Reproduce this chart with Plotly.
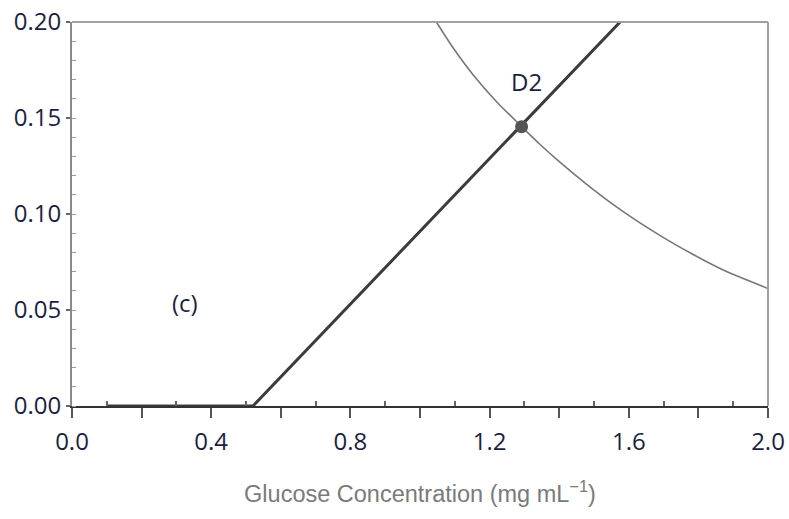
import plotly.graph_objects as go

# Thick response line: flat baseline then linear rise
resp_x = [0.10, 0.52, 1.575]
resp_y = [0.0, 0.0, 0.200]

# Thin decreasing curve
curve_x = [1.047, 1.096, 1.153, 1.220, 1.292, 1.345, 1.402, 1.489,
           1.584, 1.695, 1.785, 1.881, 2.000]
curve_y = [0.2000, 0.1863, 0.1724, 0.1585, 0.1455, 0.1362, 0.1270, 0.1140,
           0.1012, 0.0882, 0.0789, 0.0700, 0.0612]

# Intersection point D2
pt_x = [1.292]
pt_y = [0.1455]

x_ticks = [0.0, 0.4, 0.8, 1.2, 1.6, 2.0]
x_labels = ["0.0", "0.4", "0.8", "1.2", "1.6", "2.0"]
x_inner_ticks = [0.1, 0.3, 0.5, 0.7, 0.9, 1.1, 1.3, 1.5, 1.7, 1.9]
y_ticks = [0.00, 0.05, 0.10, 0.15, 0.20]
y_labels = ["0.00", "0.05", "0.10", "0.15", "0.20"]

label_font = dict(family="Open Sans, Noto Sans, sans-serif", size=24, color="#1c1f3f")

fig = go.Figure()
fig.add_trace(go.Scatter(x=curve_x, y=curve_y, mode="lines",
                         line=dict(color="#777777", width=1.6, shape="spline", smoothing=0.6),
                         cliponaxis=False, hoverinfo="skip"))
fig.add_trace(go.Scatter(x=resp_x, y=resp_y, mode="lines",
                         line=dict(color="#3c3c3c", width=3),
                         cliponaxis=False, hoverinfo="skip"))
# marker sits on the overlaying x-axis (same range) so that axis gets drawn
fig.add_trace(go.Scatter(x=pt_x, y=pt_y, mode="markers", xaxis="x2",
                         marker=dict(color="#555555", size=13),
                         cliponaxis=False, hoverinfo="skip"))

fig.add_annotation(x=1.307, y=0.169, text="D2", showarrow=False,
                   font=label_font)
fig.add_annotation(x=0.325, y=0.054, text="(c)", showarrow=False,
                   font=label_font)

# Light frame on top and right
fig.add_shape(type="line", xref="paper", yref="paper", x0=0, x1=1, y0=1, y1=1,
              line=dict(color="#a0a0a0", width=2))
fig.add_shape(type="line", xref="paper", yref="paper", x0=1, x1=1, y0=0, y1=1,
              line=dict(color="#a0a0a0", width=2))

fig.update_layout(
    width=789, height=519,
    margin=dict(l=72, r=21, t=22, b=113, autoexpand=False),
    paper_bgcolor="white", plot_bgcolor="white",
    showlegend=False,
    xaxis=dict(
        range=[0, 2.0], showgrid=False, zeroline=False, automargin=False,
        showline=True, linecolor="#333333", linewidth=2,
        tickmode="array", tickvals=x_ticks, ticktext=x_labels,
        ticks="outside", ticklen=10, tickwidth=1.5, tickcolor="#555555",
        ticklabelstandoff=3,
        minor=dict(ticks="outside", dtick=0.2, tick0=0, ticklen=10,
                   tickwidth=1.5, tickcolor="#555555"),
        tickfont=label_font,
        title=dict(text="Glucose Concentration (mg mL<sup>−1</sup>)",
                   font=dict(family="Liberation Sans, Arial, sans-serif",
                             size=23.5, color="#7a7a7a"),
                   standoff=30),
    ),
    # unlabeled axis carrying the short inward ticks between the outer ones
    xaxis2=dict(
        range=[0, 2.0], overlaying="x", anchor="y", side="bottom",
        automargin=False,
        showgrid=False, zeroline=False, showline=False, showticklabels=False,
        tickmode="array", tickvals=x_inner_ticks,
        ticks="inside", ticklen=5, tickwidth=1.5, tickcolor="#666666",
    ),
    yaxis=dict(
        range=[0, 0.2], showgrid=False, zeroline=False, automargin=False,
        showline=True, linecolor="#8a8a8a", linewidth=2,
        tickmode="array", tickvals=y_ticks, ticktext=y_labels,
        ticks="outside", ticklen=4, tickwidth=1.5, tickcolor="#666666",
        ticklabelstandoff=0,
        minor=dict(ticks="inside", dtick=0.01, tick0=0, ticklen=4,
                   tickwidth=1.2, tickcolor="#999999"),
        tickfont=label_font,
    ),
)

fig.write_html("out.html")
